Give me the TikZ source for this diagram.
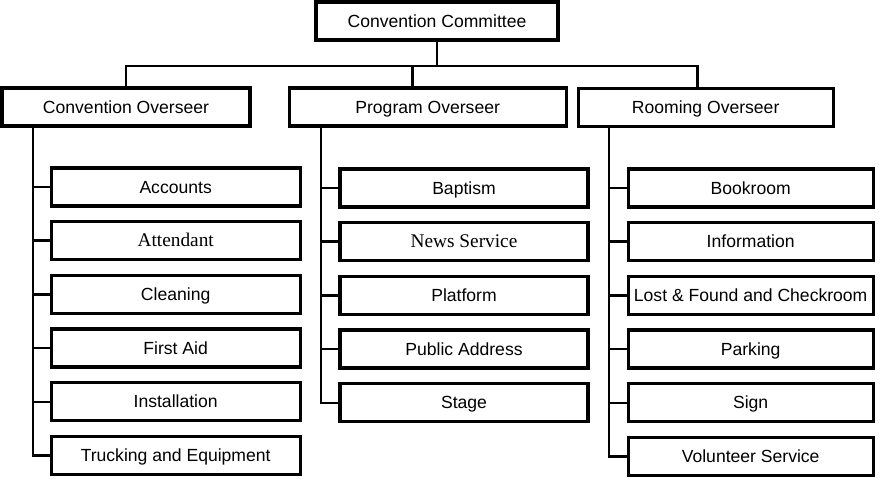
\documentclass[tikz,border=0pt]{standalone}
\usepackage{fontspec}
\setmainfont{Liberation Sans}
\newfontfamily\timesface{Liberation Serif}
\usepackage{tikz}
\usetikzlibrary{positioning}

\tikzset{
  unitbox/.style={draw, line width=2.8pt, minimum height=1.14cm, inner sep=0pt,
    text height=12pt, text depth=1.5pt, font=\fontsize{15}{18}\selectfont},
  link/.style={line width=2pt}
}
\newcommand{\serifname}[1]{{\timesface\fontsize{16.5}{18}\selectfont #1}}

\begin{document}
\begin{tikzpicture}[node distance=1.61cm]
\useasboundingbox (0,0) rectangle (26.4,-14.37);

% top level
\node[unitbox, minimum width=7.26cm] (CC) at (13.11,-0.63) {Convention Committee};

% overseers
\node[unitbox, minimum width=7.44cm] (CO) at (3.78,-3.21) {Convention Overseer};
\node[unitbox, minimum width=8.31cm] (PO) at (12.83,-3.21) {Program Overseer};
\node[unitbox, minimum width=7.65cm] (RO) at (21.17,-3.22) {Rooming Overseer};

% convention departments
\node[unitbox, minimum width=7.47cm] (ACC) at (5.27,-5.61) {Accounts};
\node[unitbox, minimum width=7.47cm] (ATT) [below of=ACC] {\serifname{Attendant}};
\node[unitbox, minimum width=7.47cm] (CLE) [below of=ATT] {Cleaning};
\node[unitbox, minimum width=7.47cm] (FAI) [below of=CLE] {First Aid};
\node[unitbox, minimum width=7.47cm] (INS) [below of=FAI] {Installation};
\node[unitbox, minimum width=7.47cm] (TRU) [below of=INS] {Trucking and Equipment};

% program departments
\node[unitbox, minimum width=7.44cm] (BAP) at (13.92,-5.64) {Baptism};
\node[unitbox, minimum width=7.44cm] (NEW) [below of=BAP] {\serifname{News Service}};
\node[unitbox, minimum width=7.44cm] (PLA) [below of=NEW] {Platform};
\node[unitbox, minimum width=7.44cm] (PUB) [below of=PLA] {Public Address};
\node[unitbox, minimum width=7.44cm] (STA) [below of=PUB] {Stage};

% rooming departments
\node[unitbox, minimum width=7.35cm] (BOO) at (22.52,-5.64) {Bookroom};
\node[unitbox, minimum width=7.35cm] (INF) [below of=BOO] {Information};
\node[unitbox, minimum width=7.35cm] (LOS) [below of=INF] {Lost \& Found and Checkroom};
\node[unitbox, minimum width=7.35cm] (PAR) [below of=LOS] {Parking};
\node[unitbox, minimum width=7.35cm] (SIG) [below of=PAR] {Sign};
\node[unitbox, minimum width=7.35cm] (VOL) [below of=SIG] {Volunteer Service};

% bus under the committee
\coordinate (bus) at (13.11,-1.98);
\draw[link] (CC.south) -- (bus);
\draw[link] (CO.north) |- (bus);
\draw[link] ([xshift=-0.45cm]PO.north) |- (bus);
\draw[link] ([xshift=-0.25cm]RO.north) |- (bus);

% spines
\coordinate (cs) at (0.99,-3.78);
\coordinate (ps) at (9.63,-3.78);
\coordinate (rs) at (18.27,-3.80);

\draw[link] (cs) |- (TRU.west);
\draw[link] (cs |- ACC.west) -- (ACC.west);
\draw[link] (cs |- ATT.west) -- (ATT.west);
\draw[link] (cs |- CLE.west) -- (CLE.west);
\draw[link] (cs |- FAI.west) -- (FAI.west);
\draw[link] (cs |- INS.west) -- (INS.west);

\draw[link] (ps) |- (STA.west);
\draw[link] (ps |- BAP.west) -- (BAP.west);
\draw[link] (ps |- NEW.west) -- (NEW.west);
\draw[link] (ps |- PLA.west) -- (PLA.west);
\draw[link] (ps |- PUB.west) -- (PUB.west);

\draw[link] (rs) |- (VOL.west);
\draw[link] (rs |- BOO.west) -- (BOO.west);
\draw[link] (rs |- INF.west) -- (INF.west);
\draw[link] (rs |- LOS.west) -- (LOS.west);
\draw[link] (rs |- PAR.west) -- (PAR.west);
\draw[link] (rs |- SIG.west) -- (SIG.west);
\end{tikzpicture}
\end{document}
